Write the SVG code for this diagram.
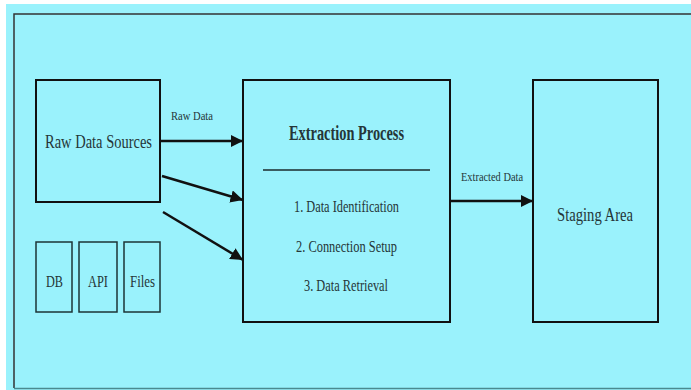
<svg xmlns="http://www.w3.org/2000/svg" width="691" height="390" viewBox="0 0 691 390">
  <style>
    .box { fill: #9af2fc; stroke: #111; stroke-width: 2; }
    .small { stroke-width: 1.5; stroke: #1d3436; }
    .lbl { font-family: "Liberation Serif", "Times New Roman", serif; fill: #253638; text-anchor: middle; }
    .edge { stroke: #111; stroke-width: 2.5; fill: none; }
  </style>
  <defs>
    <marker id="arrow" viewBox="0 0 10 10" refX="10" refY="5" markerWidth="5" markerHeight="5" orient="auto" markerUnits="strokeWidth">
      <path d="M0,0 L10,5 L0,10 Z" fill="#111"/>
    </marker>
  </defs>

  <!-- page background and frame -->
  <rect x="0" y="0" width="691" height="390" fill="#ffffff"/>
  <rect x="6" y="4" width="685" height="386" fill="#9af2fc"/>
  <path d="M14,388 L14,14 L691,14" fill="none" stroke="#333" stroke-width="1.5"/>
  <line x1="14" y1="388.5" x2="691" y2="388.5" stroke="#4a8a90" stroke-width="1.5"/>

  <g id="raw-sources">
    <rect class="box" x="36" y="80" width="124" height="122"/>
    <text class="lbl" x="98.5" y="148" font-size="19" textLength="107" lengthAdjust="spacingAndGlyphs">Raw Data Sources</text>
  </g>
  <g id="db">
    <rect class="box small" x="36" y="242" width="36" height="70"/>
    <text class="lbl" x="54.5" y="287" font-size="17" textLength="17" lengthAdjust="spacingAndGlyphs">DB</text>
  </g>
  <g id="api">
    <rect class="box small" x="79" y="242" width="38" height="70"/>
    <text class="lbl" x="98" y="287" font-size="17" textLength="20" lengthAdjust="spacingAndGlyphs">API</text>
  </g>
  <g id="files">
    <rect class="box small" x="124" y="242" width="36" height="70"/>
    <text class="lbl" x="142.5" y="287" font-size="17" textLength="25" lengthAdjust="spacingAndGlyphs">Files</text>
  </g>

  <g id="extraction">
    <rect class="box" x="243" y="80" width="207" height="242"/>
    <text class="lbl" x="346.5" y="140" font-size="20" font-weight="bold" textLength="115" lengthAdjust="spacingAndGlyphs">Extraction Process</text>
    <line x1="263" y1="170" x2="430" y2="170" stroke="#1a2a2c" stroke-width="1.5"/>
    <text class="lbl" x="346.5" y="212" font-size="17" textLength="105" lengthAdjust="spacingAndGlyphs">1. Data Identification</text>
    <text class="lbl" x="346.5" y="252" font-size="17" textLength="101" lengthAdjust="spacingAndGlyphs">2. Connection Setup</text>
    <text class="lbl" x="346" y="291" font-size="17" textLength="84" lengthAdjust="spacingAndGlyphs">3. Data Retrieval</text>
  </g>

  <g id="staging">
    <rect class="box" x="533" y="80" width="125" height="242"/>
    <text class="lbl" x="595" y="221" font-size="19" textLength="76" lengthAdjust="spacingAndGlyphs">Staging Area</text>
  </g>

  <g id="connectors">
    <line class="edge" x1="160" y1="141" x2="243" y2="141" marker-end="url(#arrow)"/>
    <line class="edge" x1="162" y1="176" x2="243" y2="200" marker-end="url(#arrow)"/>
    <line class="edge" x1="163" y1="212" x2="243" y2="260" marker-end="url(#arrow)"/>
    <line class="edge" x1="450" y1="201" x2="533" y2="201" marker-end="url(#arrow)"/>
    <text class="lbl" x="192" y="120" font-size="12" textLength="42" lengthAdjust="spacingAndGlyphs">Raw Data</text>
    <text class="lbl" x="492" y="181" font-size="12" textLength="62" lengthAdjust="spacingAndGlyphs">Extracted Data</text>
  </g>
</svg>
